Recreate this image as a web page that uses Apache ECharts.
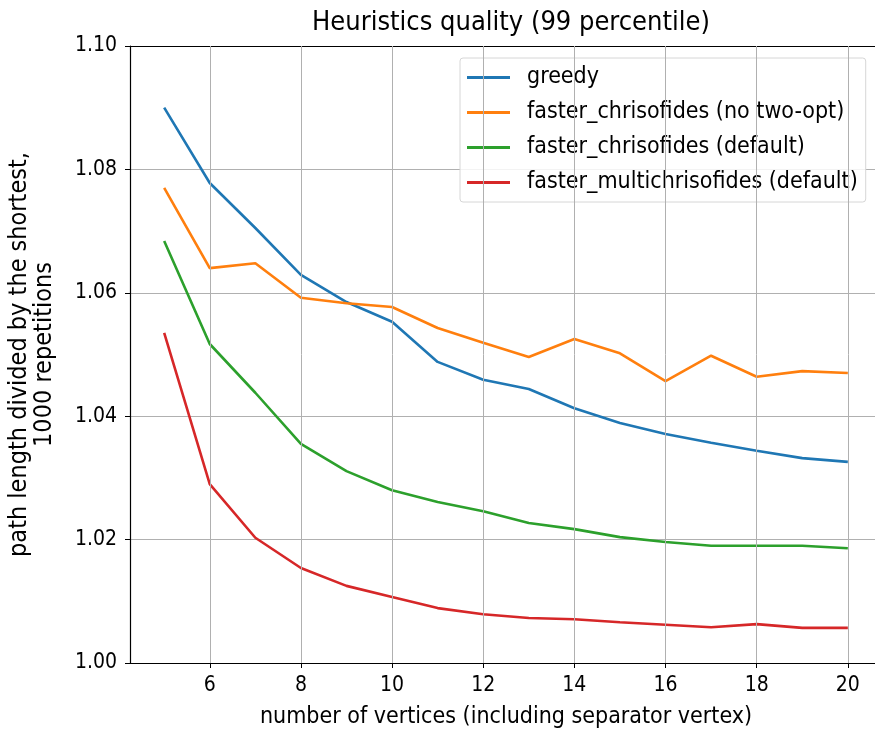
<!DOCTYPE html>
<html>
<head>
<meta charset="utf-8">
<script src="https://cdn.jsdelivr.net/npm/echarts@6/dist/echarts.min.js"></script>
<style>html,body{margin:0;padding:0;background:#fff;overflow:hidden}#c{width:875px;height:734px}</style>
</head>
<body>
<div id="c"></div>
<script>
const vertices = [5,6,7,8,9,10,11,12,13,14,15,16,17,18,19,20];
const seriesNames = ['greedy','faster_chrisofides (no two-opt)','faster_chrisofides (default)','faster_multichrisofides (default)'];
const greedy = [1.0900,1.0778,1.0705,1.0629,1.0585,1.0553,1.0488,1.0459,1.0444,1.0413,1.0389,1.0371,1.0357,1.0344,1.0332,1.0326];
const chrisNoTwoOpt = [1.0770,1.0640,1.0648,1.0592,1.0583,1.0577,1.0543,1.0519,1.0496,1.0525,1.0502,1.0457,1.0498,1.0464,1.0473,1.0470];
const chrisDefault = [1.0684,1.0517,1.0438,1.0355,1.0311,1.0280,1.0261,1.0246,1.0227,1.0217,1.0204,1.0196,1.0190,1.0190,1.0190,1.0186];
const multiChris = [1.0535,1.0290,1.0203,1.0154,1.0125,1.0107,1.0089,1.0079,1.0073,1.0071,1.0066,1.0062,1.0058,1.0063,1.0057,1.0057];
const xTicks = [6,8,10,12,14,16,18,20];
const colors = ['#1f77b4','#ff7f0e','#2ca02c','#d62728'];

const FONT = 'DejaVu Sans Condensed';
const allData = [greedy, chrisNoTwoOpt, chrisDefault, multiChris];
const chart = echarts.init(document.getElementById('c'));
const lineSeries = seriesNames.map((n, i) => ({
  name: n, type: 'line', showSymbol: false, symbol: 'none', xAxisIndex: 0, z: 3,
  data: vertices.map((x, j) => [x, allData[i][j]]),
  lineStyle: {color: colors[i], width: 2.6},
  itemStyle: {color: colors[i]}
}));
const gridSeries = {
  name: '_xgrid', type: 'line', data: [], xAxisIndex: 0, z: 1, silent: true,
  markLine: {
    silent: true, symbol: ['none', 'none'], animation: false,
    label: {show: false},
    lineStyle: {color: '#b0b0b0', width: 1, type: 'solid'},
    emphasis: {disabled: true},
    data: xTicks.map(v => ({xAxis: v}))
  }
};
chart.setOption({
  animation: false,
  backgroundColor: '#fff',
  title: {
    text: 'Heuristics quality (99 percentile)',
    left: 506, top: 4, textAlign: 'center',
    textStyle: {fontFamily: FONT, fontSize: 27, fontWeight: 'normal', color: '#000'}
  },
  legend: {
    orient: 'vertical',
    left: 460, top: 58,
    data: seriesNames,
    icon: 'rect',
    itemWidth: 43, itemHeight: 3,
    itemGap: 12,
    padding: [8, 8, 8, 7],
    backgroundColor: 'rgba(255,255,255,0.85)',
    borderColor: '#d6d6d6', borderWidth: 1, borderRadius: 3,
    textStyle: {fontFamily: FONT, fontSize: 23, color: '#000', padding: [0,0,0,12]}
  },
  grid: {left: 130, right: -7, top: 46, bottom: 71, show: false, outerBoundsMode: 'none', containLabel: false},
  xAxis: [{
    type: 'value', min: 4.25, max: 20.75,
    name: 'number of vertices (including separator vertex)',
    nameLocation: 'middle', nameGap: 43,
    nameTextStyle: {fontFamily: FONT, fontSize: 23, color: '#000'},
    axisLine: {show: true, onZero: false, lineStyle: {color: '#000', width: 1.2}},
    axisTick: {show: true, length: 5, customValues: xTicks, lineStyle: {color: '#000'}},
    axisLabel: {customValues: xTicks, margin: 12, fontFamily: FONT, fontSize: 21, color: '#000'},
    splitLine: {show: false}
  }, {
    type: 'value', min: 4.25, max: 20.75, position: 'top',
    axisLine: {show: true, onZero: false, lineStyle: {color: '#000', width: 1.2}},
    axisTick: {show: false}, axisLabel: {show: false}, splitLine: {show: false}
  }],
  yAxis: {
    type: 'value', min: 1.0, max: 1.1, interval: 0.02,
    name: 'path length divided by the shortest,\n1000 repetitions',
    nameLocation: 'middle', nameGap: 73,
    nameTextStyle: {fontFamily: FONT, fontSize: 25, color: '#000', lineHeight: 25},
    axisLine: {show: true, onZero: false, lineStyle: {color: '#000', width: 1.2}},
    axisTick: {show: true, length: 5, lineStyle: {color: '#000'}},
    axisLabel: {margin: 13, fontFamily: FONT, fontSize: 21, color: '#000', formatter: v => v.toFixed(2)},
    splitLine: {show: true, lineStyle: {color: '#b0b0b0', width: 1}}
  },
  series: [gridSeries].concat(lineSeries)
});
</script>
</body>
</html>
